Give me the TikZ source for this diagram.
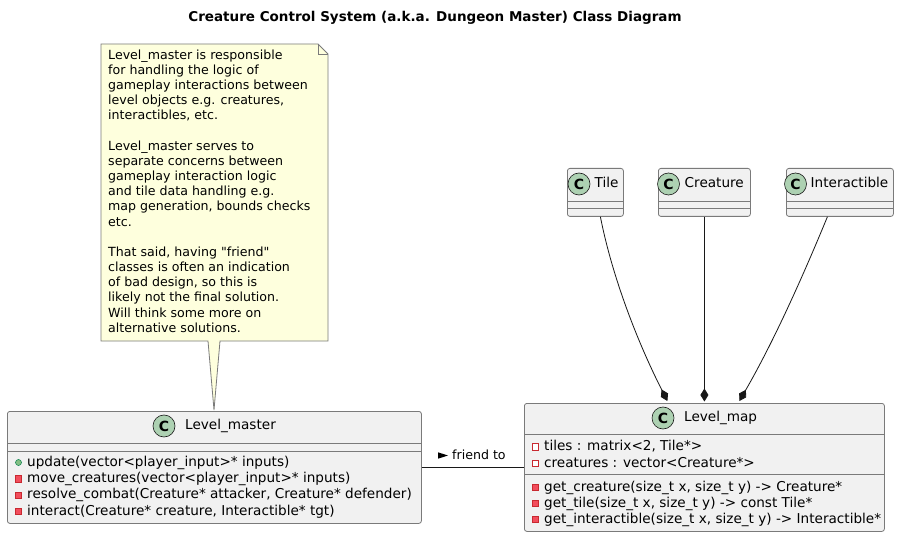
\documentclass[tikz,border=0pt]{standalone}
\usepackage{fontspec}
\setmainfont{DejaVu Sans}
\usetikzlibrary{arrows.meta,calc}
\definecolor{classbg}{HTML}{F1F1F1}
\definecolor{lineclr}{HTML}{181818}
\definecolor{boxline}{HTML}{7A7A7A}
\definecolor{circbg}{HTML}{ADD1B2}
\definecolor{notebg}{HTML}{FEFFDD}
\definecolor{pubfill}{HTML}{84BE84}
\definecolor{pubdraw}{HTML}{038048}
\definecolor{privfill}{HTML}{F24D5C}
\definecolor{privdraw}{HTML}{C82930}
\font\plainquotefont="DejaVu Sans" at 12.6pt
\newcommand{\sq}{{\plainquotefont"}}
\begin{document}
\begin{tikzpicture}[x=1pt,y=-1pt,
  classbox/.style={draw=boxline, line width=0.8pt, fill=classbg, rounded corners=2.5pt, inner sep=0, anchor=north west},
  sepline/.style={draw=boxline, line width=0.8pt},
  cicon/.style={circle, draw=lineclr, line width=0.6pt, fill=circbg, minimum size=22pt, inner sep=0, font=\bfseries\fontsize{14}{14}\selectfont},
  cname/.style={anchor=west, inner sep=0, text height=10pt, text depth=3pt, font=\fontsize{13.6}{16}\selectfont},
  member/.style={anchor=west, inner sep=0, text height=10pt, text depth=3pt, font=\fontsize{13.6}{16}\selectfont},
  pubicon/.style={circle, draw=pubdraw, fill=pubfill, minimum size=6pt, inner sep=0, line width=0.5pt},
  privicon/.style={rectangle, draw=privdraw, fill=privfill, minimum size=6.5pt, inner sep=0, line width=0.6pt},
  privfield/.style={privicon, fill=white},
  comp/.style={draw=lineclr, line width=0.8pt, -{Diamond[length=13pt,width=8pt]}},
  assoc/.style={draw=lineclr, line width=0.8pt}
]
\useasboundingbox (0,0) rectangle (899,537);
\fill[white] (0,0) rectangle (899,537);

% title
\node[font=\bfseries\fontsize{13.5}{16}\selectfont, inner sep=0] (title) at (435,18) {Creature Control System (a.k.a. Dungeon Master) Class Diagram};

% note
\draw[draw=boxline, line width=0.8pt, fill=notebg, line join=miter]
  (101,44) -- (318,44) -- (328,54) -- (328,341) -- (220,341) -- (214,410) -- (208,341) -- (101,341) -- cycle;
\draw[draw=boxline, line width=0.8pt] (318,44) -- (318,54) -- (328,54);
\node[anchor=north west, inner sep=0, align=left, font=\fontsize{12.6}{15.17}\selectfont] (notetext) at (108,49.5) {Level\_master is responsible\\
for handling the logic of\\
gameplay interactions between\\
level objects e.g. creatures,\\
interactibles, etc.\\[15.17pt]
Level\_master serves to\\
separate concerns between\\
gameplay interaction logic\\
and tile data handling e.g.\\
map generation, bounds checks\\
etc.\\[15.17pt]
That said, having \sq friend\sq\\
classes is often an indication\\
of bad design, so this is\\
likely not the final solution.\\
Will think some more on\\
alternative solutions.};

% Level_master
\node[classbox, minimum width=414pt, minimum height=112pt] (lm) at (7,411) {};
\draw[sepline] (7,443) -- (421,443);
\draw[sepline] (7,451) -- (421,451);
\node[cicon] (lmc) at (164,426) {C};
\node[cname] (lmn) at (185,426) {Level\_master};
\node[pubicon] (lmi1) at (18.5,462.5) {};
\node[member] (lmm1) at (27,462.5) {update(vector<player\_input>* inputs)};
\node[privicon] (lmi2) at (18.5,479) {};
\node[member] (lmm2) at (27,479) {move\_creatures(vector<player\_input>* inputs)};
\node[privicon] (lmi3) at (18.5,495.3) {};
\node[member] (lmm3) at (27,495.3) {resolve\_combat(Creature* attacker, Creature* defender)};
\node[privicon] (lmi4) at (18.5,511.5) {};
\node[member] (lmm4) at (27,511.5) {interact(Creature* creature, Interactible* tgt)};

% Level_map
\node[classbox, minimum width=360pt, minimum height=128pt] (lmap) at (524,403) {};
\draw[sepline] (524,434) -- (884,434);
\draw[sepline] (524,474) -- (884,474);
\node[cicon] (lmapc) at (663,418) {C};
\node[cname] (lmapn) at (684,418) {Level\_map};
\node[privfield] (ma1i) at (535.5,447) {};
\node[member] (ma1) at (544,447) {tiles : matrix<2, Tile*>};
\node[privfield] (ma2i) at (535.5,463.5) {};
\node[member] (ma2) at (544,463.5) {creatures : vector<Creature*>};
\node[privicon] (mm1i) at (535.5,487.5) {};
\node[member] (mm1) at (544,487.5) {get\_creature(size\_t x, size\_t y) -> Creature*};
\node[privicon] (mm2i) at (535.5,503.5) {};
\node[member] (mm2) at (544,503.5) {get\_tile(size\_t x, size\_t y) -> const Tile*};
\node[privicon] (mm3i) at (535.5,519.5) {};
\node[member] (mm3) at (544,519.5) {get\_interactible(size\_t x, size\_t y) -> Interactible*};

% Tile
\node[classbox, minimum width=56pt, minimum height=48pt] (tile) at (567,168) {};
\draw[sepline] (567,201) -- (623,201);
\draw[sepline] (567,208) -- (623,208);
\node[cicon] (tilec) at (579,184) {C};
\node[cname] (tilen) at (594.5,184) {Tile};

% Creature
\node[classbox, minimum width=92pt, minimum height=48pt] (creature) at (658,168) {};
\draw[sepline] (658,201) -- (750,201);
\draw[sepline] (658,208) -- (750,208);
\node[cicon] (creaturec) at (668.5,184) {C};
\node[cname] (creaturen) at (684.5,184) {Creature};

% Interactible
\node[classbox, minimum width=107pt, minimum height=48pt] (inter) at (786,168) {};
\draw[sepline] (786,201) -- (893,201);
\draw[sepline] (786,208) -- (893,208);
\node[cicon] (interc) at (795.5,184) {C};
\node[cname] (intern) at (810.5,184) {Interactible};

% compositions
\draw[comp] ($(tile.south)+(5,0)$) .. controls (612,276) and (637,341) .. ($(lmap.north)+(-37,-2)$);
\draw[comp] (creature.south) -- ($(lmap.north)+(0,-1.5)$);
\draw[comp] ($(inter.south)+(-12.5,0)$) .. controls (803,276) and (774,341) .. ($(lmap.north)+(35,-2)$);

% association
\draw[assoc] (lm) -- (lmap);
\node[anchor=west, inner sep=0, text height=10pt, text depth=3pt, font=\fontsize{12.6}{15}\selectfont] (lbl) at (452,455.5) {friend to};
\fill[black] ($(lbl.west)+(-14,-3.2)$) -- ++(10,3.2) -- ++(-10,3.2) -- cycle;
\end{tikzpicture}
\end{document}
